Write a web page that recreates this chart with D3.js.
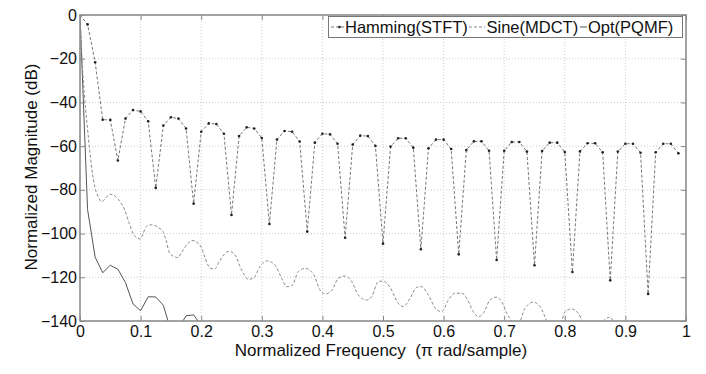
<!DOCTYPE html>
<html>
<head>
<meta charset="utf-8">
<script src="https://cdn.jsdelivr.net/npm/d3@7"></script>
<style>
  body { margin:0; background:#fff; }
  svg { font-family:"Liberation Sans", Arial, sans-serif; }
  .tick text { font-size:16px; fill:#111; }
  .tick line { stroke:#888; }
  .label { font-size:17px; fill:#111; }
  .legend text { font-size:16.5px; fill:#111; }
</style>
</head>
<body>
<svg id="chart"></svg>
<script>
//////////////////////////////////////////////////////////////
// data (dB)
// Hamming(STFT): one sample every 1/80 (pi rad/sample), k = 0..79
var hammingDb = [0, -4.3, -21.6, -47.9, -48.0, -66.6, -47.4, -43.5, -44.1, -48.6,
    -79.1, -50.6, -46.8, -47.4, -51.9, -86.3, -53.4, -49.6, -49.9, -54.3,
    -91.5, -55.4, -51.4, -51.9, -56.3, -95.6, -57.0, -53.1, -53.4, -57.9,
    -99.1, -58.4, -54.3, -54.6, -58.9, -101.9, -59.3, -55.2, -55.4, -59.9,
    -104.6, -60.2, -56.4, -56.4, -60.7, -107.2, -61.0, -57.0, -57.0, -61.3,
    -109.5, -61.8, -57.8, -57.8, -62.1, -112.1, -62.1, -58.1, -58.1, -62.5,
    -114.5, -62.2, -58.4, -58.4, -62.7, -117.6, -62.4, -58.7, -58.7, -62.8,
    -121.4, -62.5, -58.9, -58.9, -63.0, -127.6, -62.8, -58.9, -58.9, -63.3];

// Sine(MDCT): traced points
var sineFreq = [0, 0.0033, 0.0083, 0.0124, 0.016, 0.0198, 0.0243, 0.0297, 0.0363, 0.0429,
    0.05, 0.0561, 0.0627, 0.0677, 0.0738, 0.0809, 0.0875, 0.0941, 0.0995, 0.104,
    0.1094, 0.1155, 0.1243, 0.1304, 0.137, 0.1419, 0.148, 0.1551, 0.1617, 0.1667,
    0.1738, 0.1799, 0.1865, 0.1931, 0.2002, 0.2063, 0.2112, 0.2162, 0.2223, 0.2294,
    0.2388, 0.2442, 0.2497, 0.2558, 0.2668, 0.2777, 0.286, 0.297, 0.3081, 0.3218,
    0.3328, 0.3411, 0.3493, 0.3602, 0.3713, 0.385, 0.396, 0.4043, 0.4153, 0.4262,
    0.4373, 0.4484, 0.4592, 0.4731, 0.4813, 0.4922, 0.5005, 0.5116, 0.5252, 0.5335,
    0.5446, 0.5556, 0.5639, 0.5748, 0.5886, 0.5969, 0.6078, 0.6188, 0.6299, 0.6381,
    0.649, 0.6573, 0.6655, 0.6766, 0.6865, 0.6959, 0.7041, 0.7124, 0.719, 0.7261,
    0.7343, 0.748, 0.7591, 0.7701, 0.78, 0.7949, 0.8003, 0.8114, 0.8223, 0.8306,
    0.845, 0.8635, 0.8746, 0.88, 0.9, 0.93, 0.99];
var sineDb = [0, -20, -40, -52, -62, -71, -78.5, -83, -85.4, -83.5,
    -82, -82.5, -84.2, -86, -89.2, -95, -99.9, -102, -102.5, -100,
    -96.8, -96, -96.4, -97.5, -99.1, -103, -109, -110.5, -111, -109,
    -106, -104, -103.2, -104, -106.3, -111, -114.4, -116, -116.2, -113,
    -109.3, -108.2, -108.4, -109.8, -116.7, -120.9, -120.5, -115.1, -112.5, -114.4,
    -120.5, -124.3, -124, -117.4, -115.9, -118.5, -125.8, -127.6, -126.1, -120.5,
    -119.4, -122, -128.1, -130.4, -128.9, -122, -121.7, -124.6, -131.9, -133.4,
    -129.6, -124.6, -124.3, -128.1, -134.9, -135.7, -130.4, -127.3, -127.3, -129.6,
    -135.7, -138, -136.5, -130.4, -129.1, -131.1, -136.5, -140.5, -146, -140.5,
    -134.2, -131.4, -133.4, -140, -147, -140, -135.7, -134.5, -136.5, -141,
    -150, -140, -138.3, -140, -150, -152, -150];

// Opt(PQMF): one sample every 1/80, only the visible start
var optDb = [0, -89, -110.8, -117.9, -114.5, -116.3, -122.4, -132.2, -135.3, -128.9,
    -129, -132.8, -144.4, -143.4, -137.6, -137.2, -142, -152, -155];

var xTicks = [0, 0.1, 0.2, 0.3, 0.4, 0.5, 0.6, 0.7, 0.8, 0.9, 1];
var xTickLabels = ["0", "0.1", "0.2", "0.3", "0.4", "0.5", "0.6", "0.7", "0.8", "0.9", "1"];
var yTicks = [0, -20, -40, -60, -80, -100, -120, -140];
var yTickLabels = ["0", "\u221220", "\u221240", "\u221260", "\u221280", "\u2212100", "\u2212120", "\u2212140"];

var seriesNames = ["Hamming(STFT)", "Sine(MDCT)", "Opt(PQMF)"];
//////////////////////////////////////////////////////////////

var initGraph = function(target)
{
    var screen = {width:706, height:374};
    var margins = {top:15, bottom:53, left:80, right:20};
    var graph = {
        width:screen.width-margins.left-margins.right,
        height:screen.height-margins.top-margins.bottom
    };

    var svg = d3.select(target)
        .attr("width", screen.width)
        .attr("height", screen.height);

    var xScale = d3.scaleLinear().domain([0,1]).range([0,graph.width]);
    var yScale = d3.scaleLinear().domain([-140,0]).range([graph.height,0]);

    var g = svg.append("g")
        .attr("transform","translate("+margins.left+","+margins.top+")");

    g.append("clipPath").attr("id","plotClip")
        .append("rect")
        .attr("width",graph.width)
        .attr("height",graph.height);

    // dotted grid
    var grid = g.append("g");
    grid.selectAll(".gx")
        .data(xTicks.slice(1,-1))
        .enter().append("line")
        .attr("x1",function(d){return xScale(d);})
        .attr("x2",function(d){return xScale(d);})
        .attr("y1",0).attr("y2",graph.height)
        .attr("stroke","#cdcdcd").attr("stroke-dasharray","1,2");
    grid.selectAll(".gy")
        .data(yTicks.slice(1,-1))
        .enter().append("line")
        .attr("y1",function(d){return yScale(d);})
        .attr("y2",function(d){return yScale(d);})
        .attr("x1",0).attr("x2",graph.width)
        .attr("stroke","#cdcdcd").attr("stroke-dasharray","1,2");

    // lines
    var plot = g.append("g").attr("clip-path","url(#plotClip)");

    var stepLine = d3.line()
        .x(function(d,i){return xScale(i/80);})
        .y(function(d){return yScale(d);});

    var sineLine = d3.line()
        .x(function(d,i){return xScale(sineFreq[i]);})
        .y(function(d){return yScale(d);})
        .curve(d3.curveMonotoneX);

    plot.append("path")
        .datum(optDb)
        .attr("d",stepLine)
        .attr("fill","none")
        .attr("stroke","#555")
        .attr("stroke-width",1);

    plot.append("path")
        .datum(sineDb)
        .attr("d",sineLine)
        .attr("fill","none")
        .attr("stroke","#8a8a8a")
        .attr("stroke-width",1)
        .attr("stroke-dasharray","3,2");

    plot.append("path")
        .datum(hammingDb)
        .attr("d",stepLine)
        .attr("fill","none")
        .attr("stroke","#777")
        .attr("stroke-width",1)
        .attr("stroke-dasharray","3,2");

    plot.selectAll(".dot")
        .data(hammingDb)
        .enter().append("circle")
        .attr("cx",function(d,i){return xScale(i/80);})
        .attr("cy",function(d){return yScale(d);})
        .attr("r",1.3)
        .attr("fill","#222");

    // axes, ticks inward
    var xAxis = d3.axisBottom(xScale).tickValues(xTicks)
        .tickSize(-5).tickPadding(5)
        .tickFormat(function(d,i){return xTickLabels[i];});
    var yAxis = d3.axisLeft(yScale).tickValues(yTicks)
        .tickSize(-5).tickPadding(3)
        .tickFormat(function(d,i){return yTickLabels[i];});

    g.append("g")
        .attr("transform","translate(0,"+graph.height+")")
        .call(xAxis)
        .call(function(a){a.select(".domain").remove();});
    g.append("g")
        .call(yAxis)
        .call(function(a){a.select(".domain").remove();});
    g.append("g")
        .call(d3.axisTop(xScale).tickValues(xTicks).tickSize(-5).tickFormat(""))
        .call(function(a){a.select(".domain").remove();});
    g.append("g")
        .attr("transform","translate("+graph.width+",0)")
        .call(d3.axisRight(yScale).tickValues(yTicks).tickSize(-5).tickFormat(""))
        .call(function(a){a.select(".domain").remove();});

    g.selectAll(".tick text").attr("font-family",null).attr("font-size",null);

    // box
    g.append("rect")
        .attr("width",graph.width)
        .attr("height",graph.height)
        .attr("fill","none")
        .attr("stroke","#8c8c8c")
        .attr("stroke-width",1.6);

    // labels
    svg.append("text")
        .classed("label",true)
        .attr("text-anchor","middle")
        .attr("x",381)
        .attr("y",356)
        .text("Normalized Frequency\u00a0 (\u03c0 rad/sample)");

    svg.append("g")
        .attr("transform","translate(37,"+(margins.top+graph.height/2-1)+")")
        .append("text")
        .classed("label",true)
        .attr("text-anchor","middle")
        .attr("transform","rotate(-90)")
        .text("Normalized Magnitude (dB)");

    // legend
    var legend = svg.append("g").classed("legend",true);
    legend.append("rect")
        .attr("x",328.5).attr("y",16.5)
        .attr("width",354).attr("height",21)
        .attr("fill","#fff")
        .attr("stroke","#777")
        .attr("stroke-width",1);

    var items = [
        {name:seriesNames[0], x0:331, x1:344, tx:345, stroke:"#777", dash:"3,2", dot:true},
        {name:seriesNames[1], x0:469, x1:485, tx:486.5, stroke:"#8a8a8a", dash:"3,2", dot:false},
        {name:seriesNames[2], x0:580, x1:587, tx:588, stroke:"#555", dash:null, dot:false}
    ];
    var it = legend.selectAll(".item")
        .data(items)
        .enter().append("g");
    it.append("line")
        .attr("x1",function(d){return d.x0;})
        .attr("x2",function(d){return d.x1;})
        .attr("y1",27).attr("y2",27)
        .attr("stroke",function(d){return d.stroke;})
        .attr("stroke-dasharray",function(d){return d.dash;});
    it.filter(function(d){return d.dot;})
        .append("circle")
        .attr("cx",function(d){return (d.x0+d.x1)/2+2;})
        .attr("cy",27).attr("r",1.3).attr("fill","#222");
    it.append("text")
        .attr("x",function(d){return d.tx;})
        .attr("y",33)
        .text(function(d){return d.name;});
}

initGraph("#chart");
</script>
</body>
</html>
